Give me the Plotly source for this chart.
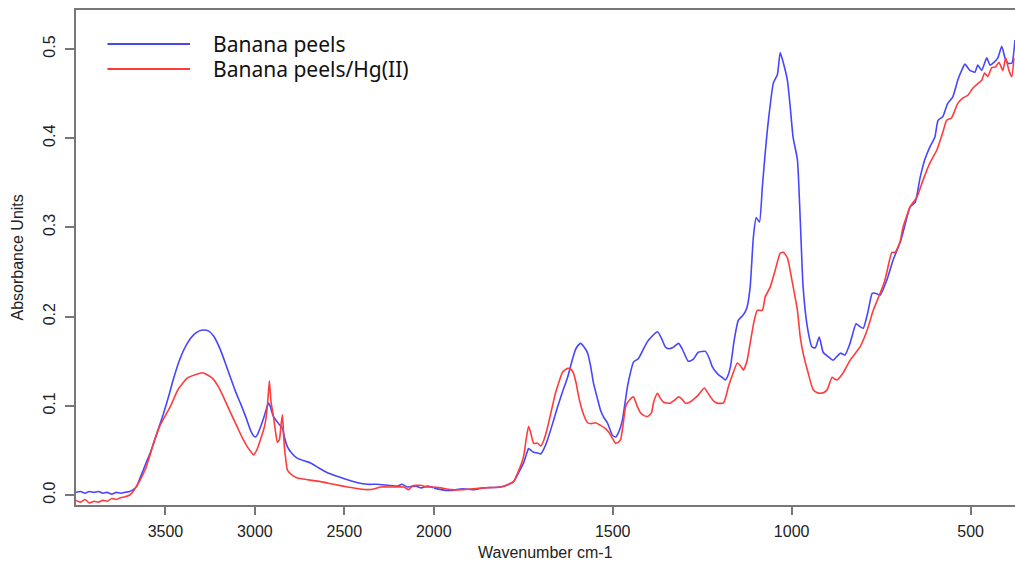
import plotly.graph_objects as go

# ---------------- data ----------------
wn_peels = [4000, 3975, 3950, 3925, 3900, 3875, 3850, 3825, 3800, 3775, 3750, 3725, 3700, 3680,
            3660, 3640, 3610, 3580, 3550, 3513, 3480, 3457, 3420, 3378, 3340, 3310, 3288, 3260,
            3230, 3193, 3160, 3137, 3110, 3081, 3050, 3025, 3010, 2997, 2985, 2969, 2950, 2935,
            2924, 2915, 2905, 2896, 2875, 2855, 2846, 2835, 2818, 2790, 2762, 2720, 2689, 2640,
            2594, 2540, 2482, 2430, 2370, 2320, 2258, 2200, 2180, 2146, 2100, 2070, 2034, 2000,
            1980, 1953, 1920, 1890, 1860, 1813, 1790, 1777, 1763, 1749, 1740, 1735, 1728, 1721,
            1710, 1701, 1692, 1682, 1668, 1654, 1640, 1626, 1614, 1604, 1596, 1590, 1580, 1570,
            1562, 1554, 1544, 1534, 1525, 1515, 1508, 1501, 1492, 1484, 1473, 1466, 1459, 1450,
            1442, 1428, 1415, 1403, 1390, 1375, 1364, 1353, 1343, 1333, 1316, 1305, 1289, 1275,
            1261, 1241, 1230, 1222, 1205, 1195, 1185, 1178, 1171, 1160, 1149, 1135, 1125, 1116,
            1107, 1099, 1090, 1082, 1074, 1065, 1051, 1040, 1032, 1023, 1012, 1004, 996, 984,
            976, 968, 956, 943, 934, 923, 912, 898, 884, 874, 864, 851, 837, 820, 810, 800,
            786, 775, 764, 753, 734, 717, 697, 689, 669, 655, 641, 628, 614, 600, 591, 578,
            564, 550, 536, 525, 516, 502, 488, 480, 469, 455, 446, 435, 424, 413, 404, 396,
            385, 376]
abs_peels = [0.003, 0.004, 0.002, 0.004, 0.003, 0.004, 0.002, 0.003, 0.001, 0.003, 0.002, 0.003, 0.004, 0.006,
             0.010, 0.020, 0.035, 0.050, 0.068, 0.090, 0.112, 0.129, 0.152, 0.170, 0.180, 0.184, 0.185, 0.184,
             0.178, 0.163, 0.145, 0.132, 0.117, 0.103, 0.087, 0.073, 0.067, 0.065, 0.068, 0.076, 0.087, 0.097,
             0.103, 0.100, 0.093, 0.088, 0.082, 0.077, 0.075, 0.065, 0.054, 0.046, 0.041, 0.038, 0.036, 0.030,
             0.025, 0.021, 0.017, 0.014, 0.012, 0.012, 0.011, 0.010, 0.012, 0.009, 0.010, 0.008, 0.010, 0.008,
             0.006, 0.005, 0.007, 0.006, 0.008, 0.009, 0.012, 0.015, 0.025, 0.036, 0.047, 0.052, 0.050, 0.048,
             0.047, 0.046, 0.052, 0.062, 0.080, 0.099, 0.116, 0.132, 0.150, 0.163, 0.168, 0.170, 0.166, 0.159,
             0.145, 0.126, 0.110, 0.095, 0.087, 0.081, 0.074, 0.067, 0.065, 0.070, 0.084, 0.102, 0.121, 0.138,
             0.149, 0.153, 0.163, 0.172, 0.178, 0.183, 0.176, 0.166, 0.164, 0.165, 0.170, 0.163, 0.150, 0.152,
             0.160, 0.161, 0.153, 0.144, 0.135, 0.132, 0.129, 0.134, 0.144, 0.175, 0.196, 0.202, 0.210, 0.233,
             0.289, 0.311, 0.306, 0.345, 0.383, 0.420, 0.462, 0.471, 0.496, 0.484, 0.465, 0.435, 0.401, 0.376,
             0.308, 0.233, 0.188, 0.166, 0.165, 0.177, 0.160, 0.155, 0.151, 0.155, 0.159, 0.157, 0.170, 0.192, 0.189, 0.187,
             0.207, 0.226, 0.226, 0.224, 0.241, 0.263, 0.283, 0.294, 0.323, 0.328, 0.356, 0.376, 0.390, 0.401, 0.420, 0.424,
             0.439, 0.446, 0.465, 0.476, 0.483, 0.476, 0.474, 0.482, 0.476, 0.490, 0.482, 0.485, 0.490, 0.503, 0.490, 0.484,
             0.484, 0.510]

wn_hg = [4000, 3975, 3950, 3925, 3900, 3875, 3850, 3825, 3800, 3775, 3750, 3725, 3700, 3680,
         3658, 3641, 3610, 3569, 3530, 3473, 3430, 3378, 3330, 3294, 3260, 3238, 3200, 3176,
         3140, 3098, 3070, 3042, 3020, 3008, 2990, 2969, 2950, 2941, 2930, 2919, 2910, 2896,
         2884, 2874, 2863, 2853, 2846, 2840, 2835, 2826, 2818, 2790, 2762, 2700, 2633, 2560,
         2482, 2420, 2370, 2330, 2297, 2230, 2168, 2140, 2120, 2073, 2040, 2000,
         1980, 1953, 1920, 1890, 1860, 1813, 1790, 1777, 1763, 1749, 1742, 1735, 1728, 1721,
         1710, 1701, 1692, 1682, 1670, 1660, 1650, 1640, 1626, 1617, 1610, 1602, 1595, 1583,
         1570, 1560, 1548, 1534, 1522, 1512, 1500, 1492, 1485, 1478, 1470, 1464, 1452, 1442,
         1432, 1422, 1412, 1403, 1392, 1385, 1375, 1366, 1358, 1339, 1328, 1316, 1305, 1297,
         1285, 1275, 1261, 1244, 1235, 1227, 1217, 1208, 1191, 1184, 1177, 1165, 1152, 1143,
         1135, 1125, 1116, 1105, 1096, 1082, 1074, 1060, 1046, 1032, 1023, 1012, 998, 984,
         976, 968, 954, 940, 930, 920, 910, 901, 887, 880, 873, 856, 837, 809, 789, 772,
         753, 740, 734, 720, 711, 697, 689, 669, 650, 633, 614, 594, 578, 567, 553, 536,
         522, 508, 494, 483, 469, 461, 452, 441, 430, 421, 410, 402, 393, 385, 379]
abs_hg = [-0.006, -0.008, -0.005, -0.009, -0.007, -0.008, -0.006, -0.007, -0.004, -0.005, -0.003, -0.002, 0.000, 0.004,
          0.011, 0.017, 0.030, 0.056, 0.078, 0.099, 0.118, 0.131, 0.135, 0.137, 0.134, 0.131, 0.120, 0.110,
          0.094, 0.076, 0.064, 0.054, 0.048, 0.045, 0.050, 0.062, 0.074, 0.082, 0.100, 0.128, 0.105, 0.088,
          0.070, 0.059, 0.062, 0.080, 0.090, 0.070, 0.054, 0.038, 0.028, 0.022, 0.019, 0.017, 0.015, 0.012,
          0.009, 0.007, 0.006, 0.007, 0.009, 0.009, 0.009, 0.006, 0.010, 0.011, 0.009, 0.009,
          0.008, 0.006, 0.006, 0.007, 0.008, 0.009, 0.012, 0.015, 0.027, 0.043, 0.062, 0.077, 0.068, 0.058,
          0.058, 0.055, 0.062, 0.076, 0.097, 0.114, 0.127, 0.138, 0.142, 0.141, 0.137, 0.125, 0.110, 0.092,
          0.081, 0.080, 0.081, 0.078, 0.075, 0.071, 0.063, 0.058, 0.059, 0.062, 0.082, 0.099, 0.107, 0.110,
          0.100, 0.092, 0.089, 0.088, 0.092, 0.105, 0.114, 0.108, 0.104, 0.103, 0.106, 0.110, 0.107, 0.103,
          0.104, 0.107, 0.112, 0.120, 0.115, 0.110, 0.105, 0.103, 0.103, 0.110, 0.121, 0.135, 0.148, 0.145,
          0.140, 0.150, 0.170, 0.195, 0.207, 0.207, 0.222, 0.233, 0.252, 0.271, 0.272, 0.266, 0.238, 0.207,
          0.177, 0.159, 0.137, 0.118, 0.115, 0.114, 0.115, 0.118, 0.132, 0.130, 0.129, 0.137, 0.151, 0.166, 0.185, 0.207,
          0.226, 0.240, 0.250, 0.272, 0.272, 0.284, 0.300, 0.323, 0.334, 0.353, 0.372, 0.387, 0.406, 0.420, 0.423, 0.439,
          0.445, 0.448, 0.456, 0.460, 0.465, 0.473, 0.469, 0.479, 0.480, 0.485, 0.476, 0.490, 0.476, 0.469, 0.490]

series_names = ["Banana peels", "Banana peels/Hg(II)"]
x_ticks_high = [3500, 3000, 2500, 2000]
x_ticks_low = [1500, 1000, 500]
y_ticks = [0.0, 0.1, 0.2, 0.3, 0.4, 0.5]
y_ticklabels = ["0.0", "0.1", "0.2", "0.3", "0.4", "0.5"]

# ---------------- styling ----------------
BLUE = "rgb(70,70,255)"
RED = "rgb(255,60,60)"
AXIS = "#777777"
TXT = "#222222"
SPLIT = 2000
fig = go.Figure()

def add_series(wn, ab, color, name):
    hi = [(w, a) for w, a in zip(wn, ab) if w >= SPLIT]
    lo = [(w, a) for w, a in zip(wn, ab) if w <= SPLIT]
    line = dict(color=color, width=1.6, shape="spline", smoothing=0.5)
    fig.add_trace(go.Scatter(x=[p[0] for p in hi], y=[p[1] for p in hi], mode="lines",
                             line=line, name=name, xaxis="x", yaxis="y", showlegend=False))
    fig.add_trace(go.Scatter(x=[p[0] for p in lo], y=[p[1] for p in lo], mode="lines",
                             line=line, name=name, xaxis="x2", yaxis="y", showlegend=False))

add_series(wn_peels, abs_peels, BLUE, series_names[0])
add_series(wn_hg, abs_hg, RED, series_names[1])

SPLIT_FRAC = 0.381
tickfont = dict(family="Liberation Sans, Arial, sans-serif", size=16, color=TXT)
common_x = dict(showline=True, linecolor=AXIS, linewidth=1.5, mirror=True, ticks="outside",
                ticklen=8, tickcolor=AXIS, tickwidth=1.5, showgrid=False, zeroline=False,
                tickfont=tickfont, anchor="y", ticklabelstandoff=3)

fig.update_layout(
    width=1015, height=568, autosize=False,
    margin=dict(l=76, r=0, t=10, b=63, autoexpand=False),
    plot_bgcolor="white", paper_bgcolor="white",
    showlegend=False,
    xaxis=dict(domain=[0, SPLIT_FRAC], range=[4000, 2000], tickvals=x_ticks_high,
               ticktext=[str(v) for v in x_ticks_high], **common_x),
    xaxis2=dict(domain=[SPLIT_FRAC, 1], range=[2000, 376], tickvals=x_ticks_low,
                ticktext=[str(v) for v in x_ticks_low], **common_x),
    yaxis=dict(domain=[0, 1], range=[-0.0112, 0.5437], tickvals=y_ticks, ticktext=y_ticklabels,
               tickangle=-90, showline=True, linecolor=AXIS, linewidth=1.5, ticks="outside",
               ticklen=9, tickcolor=AXIS, tickwidth=1.5, showgrid=False, zeroline=False,
               tickfont=tickfont, ticklabelstandoff=4),
)

# legend drawn as line samples + text
legend_font = dict(family="Noto Sans, Open Sans, sans-serif", size=21, color="#111111")
for yy, color, name in [(0.9313, BLUE, series_names[0]), (0.8808, RED, series_names[1])]:
    fig.add_shape(type="line", xref="paper", yref="paper", x0=0.0335, x1=0.1214, y0=yy, y1=yy,
                  line=dict(color=color, width=2))
    fig.add_annotation(xref="paper", yref="paper", x=0.1448, y=yy, xanchor="left", yanchor="middle",
                       text=name, showarrow=False, font=legend_font, borderpad=0)

title_font = dict(family="Liberation Sans, Arial, sans-serif", size=16, color=TXT)
fig.add_annotation(xref="paper", yref="paper", x=0.5, y=-0.095, xanchor="center", yanchor="middle",
                   text="Wavenumber cm-1", showarrow=False, font=title_font)
fig.add_annotation(xref="paper", yref="paper", x=-0.0618, y=0.5, xanchor="center", yanchor="middle",
                   text="Absorbance Units", textangle=-90, showarrow=False, font=title_font)

fig.write_html("out.html", config={"responsive": False})
